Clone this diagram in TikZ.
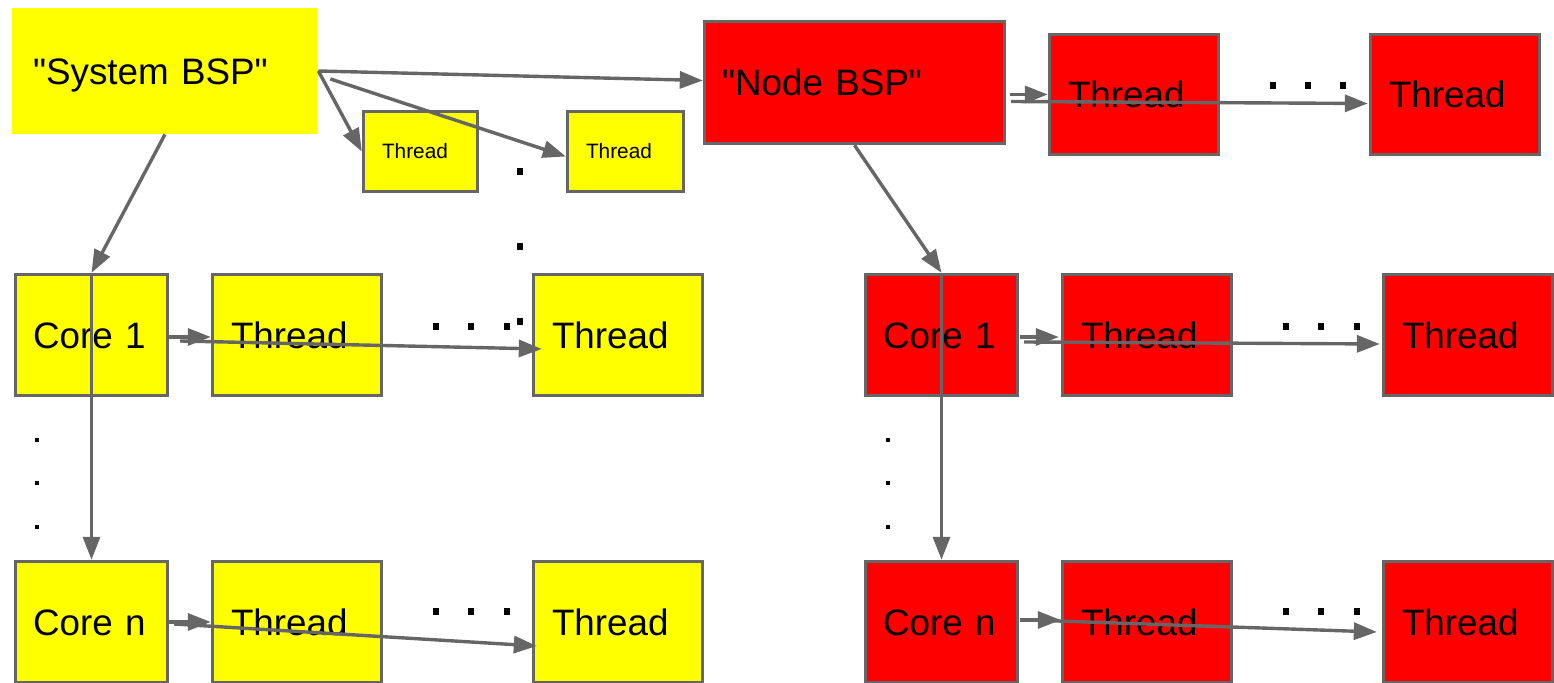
\documentclass[tikz,border=0pt]{standalone}
\usepackage{fontspec}
\setmainfont{Liberation Sans}[Ligatures=TeXOff]
\usetikzlibrary{arrows.meta,calc}
\definecolor{gc}{HTML}{666666}
\definecolor{yl}{HTML}{FFFF00}
\definecolor{rd}{HTML}{FF0000}
\newcommand{\bigf}{\fontsize{18.4pt}{22pt}\selectfont}
\newcommand{\smallf}{\fontsize{10.4pt}{12.5pt}\selectfont}
\tikzset{
  bx/.style={draw=gc, line width=1.7pt, inner xsep=0pt, inner ysep=0pt, align=left, font=\bigf, text=black, text height=13.2pt, text depth=0pt},
  ybx/.style={bx, fill=yl},
  rbx/.style={bx, fill=rd},
  corebox/.style={minimum width=76pt, minimum height=60.5pt, text width=58.5pt},
  thrbox/.style={minimum width=84.5pt, minimum height=60.5pt, text width=66pt},
  smallthr/.style={ybx, font=\smallf, minimum height=40pt, text height=7.45pt},
  conn/.style={draw=gc, line width=1.7pt, -{Triangle[length=11.5pt,width=8.5pt]}},
  bigdot/.style={fill=black, draw=none, minimum width=3pt, minimum height=3.5pt, inner sep=0pt},
  smalldot/.style={fill=black, draw=none, minimum width=2pt, minimum height=2pt, inner sep=0pt}
}
\begin{document}
\begin{tikzpicture}[x=0.5pt,y=-0.5pt]
\useasboundingbox (0,0) rectangle (1554,683);

% yellow side
\node[fill=yl, inner xsep=0pt, inner ysep=0pt, align=left, font=\bigf, text height=13.2pt, text depth=0pt, minimum width=153pt, minimum height=63pt, text width=132pt] (sys) at (165,71) {"System BSP"};
\node[smallthr, minimum width=57pt, text width=38.5pt] (st1) at (420.5,151.5) {Thread};
\node[smallthr, minimum width=58pt, text width=39.5pt] (st2) at (625.5,151.5) {Thread};
\node[ybx, corebox] (yc1) at (91.5,335) {Core 1};
\node[ybx, thrbox] (yt1) at (297,335) {Thread};
\node[ybx, thrbox] (yt1b) at (618,335) {Thread};
\node[ybx, corebox] (ycn) at (91.5,622) {Core n};
\node[ybx, thrbox] (ytn) at (297,622) {Thread};
\node[ybx, thrbox] (ytnb) at (618,622) {Thread};

% red side
\node[rbx, minimum width=150pt, minimum height=61pt, text width=132.5pt] (nbsp) at (854.5,82.5) {"Node BSP"};
\node[rbx, thrbox, minimum height=60pt] (rt1) at (1134,94.5) {Thread};
\node[rbx, thrbox, minimum height=60pt] (rt2) at (1455,94.5) {Thread};
\node[rbx, corebox] (rc1) at (941.5,335) {Core 1};
\node[rbx, thrbox] (rr1) at (1147,335) {Thread};
\node[rbx, thrbox] (rr1b) at (1468,335) {Thread};
\node[rbx, corebox] (rcn) at (941.5,622) {Core n};
\node[rbx, thrbox] (rrn) at (1147,622) {Thread};
\node[rbx, thrbox] (rrnb) at (1468,622) {Thread};

% connectors, yellow side
\draw[conn] (sys.east) -- ($(nbsp.west)+(0,-2)$);
\draw[conn] (sys.east) -- (st1.west);
\draw[conn] ($(sys.east)+(12,8)$) -- ($(st2.west)+(0,5)$);
\draw[conn] (sys.south) -- (yc1.north);
\draw[conn] (yc1.north) -- (ycn.north);
\draw[conn] ($(yc1.east)+(0,2)$) -- ($(yt1.west)+(0,2)$);
\draw[conn] ($(yc1.east)+(11,6)$) -- ($(yt1b.west)+(10,14)$);
\draw[conn] (ycn.east) -- (ytn.west);
\draw[conn] ($(ycn.east)+(5,2)$) -- ($(ytnb.west)+(5,24)$);

% connectors, red side
\draw[conn] ($(nbsp.east)+(4,12)$) -- (rt1.west);
\draw[conn] ($(nbsp.east)+(5,19)$) -- ($(rt2.west)+(-1,9)$);
\draw[conn] (nbsp.south) -- (rc1.north);
\draw[conn] (rc1.north) -- (rcn.north);
\draw[conn] ($(rc1.east)+(1,2)$) -- ($(rr1.west)+(-2,2)$);
\draw[conn] ($(rc1.east)+(5,7)$) -- ($(rr1b.west)+(-2,9)$);
\draw[conn] ($(rcn.east)+(1,-2)$) -- ($(rrn.west)+(0,-2)$);
\draw[conn] ($(rcn.east)+(10,-2)$) -- ($(rrnb.west)+(-5,10)$);

% dots
\foreach \p [count=\i] in {(520,172),(520,247),(520,322),
  (436,327),(471,327),(507,327),(436,612),(471,612),(507,612),
  (1273,86),(1308,86),(1343,86),
  (1286,327),(1321,327),(1357,327),(1286,612),(1321,612),(1357,612)}
  \node[bigdot] (bd\i) at \p {};
\foreach \p [count=\i] in {(37,440),(37,483),(37,527),(888,440),(888,483),(888,527)}
  \node[smalldot] (sd\i) at \p {};
\end{tikzpicture}
\end{document}
